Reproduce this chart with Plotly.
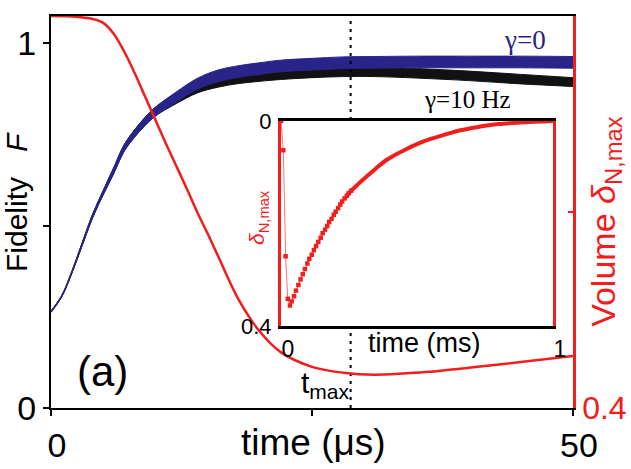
import plotly.graph_objects as go

# main panel: fidelity bands (gamma=0 blue, gamma=10 Hz black) vs time in us
t_us = [0, 1, 2, 3, 4, 5, 6, 7, 8, 9, 10, 12, 14, 16, 18, 20, 22, 25, 28, 31, 35, 40, 45, 50]
blue_upper = [0.266, 0.307, 0.375, 0.454, 0.532, 0.596, 0.658, 0.721, 0.762, 0.796, 0.824, 0.866,
              0.903, 0.926, 0.938, 0.946, 0.953, 0.958, 0.962, 0.963, 0.964, 0.964, 0.964, 0.963]
blue_lower = [0.262, 0.303, 0.369, 0.446, 0.522, 0.584, 0.642, 0.703, 0.742, 0.774, 0.800, 0.838,
              0.873, 0.894, 0.906, 0.914, 0.921, 0.926, 0.930, 0.931, 0.932, 0.932, 0.932, 0.931]
black_upper = [0.266, 0.307, 0.375, 0.454, 0.532, 0.596, 0.658, 0.721, 0.762, 0.796, 0.824, 0.862,
               0.889, 0.905, 0.915, 0.921, 0.926, 0.931, 0.934, 0.934, 0.930, 0.923, 0.914, 0.905]
black_lower = [0.262, 0.303, 0.369, 0.446, 0.522, 0.584, 0.642, 0.703, 0.742, 0.774, 0.800, 0.834,
               0.863, 0.879, 0.889, 0.895, 0.900, 0.905, 0.908, 0.908, 0.904, 0.897, 0.888, 0.881]

# squeezing volume (right axis, reversed)
t_red = [0, 2, 4, 5, 6, 7, 8, 9, 10, 11, 12, 13, 14, 15, 16, 18, 20, 22, 25, 28, 31, 35, 40, 45, 50]
volume = [0, 0.0005, 0.003, 0.007, 0.018, 0.036, 0.058, 0.082, 0.106, 0.13, 0.153, 0.176, 0.2,
          0.222, 0.245, 0.29, 0.322, 0.343, 0.358, 0.364, 0.366, 0.364, 0.359, 0.353, 0.347]
t_max = 28.7

# inset: delta_N,max vs time in ms
inset_t = [0, 0.0085, 0.017, 0.025, 0.033, 0.039, 0.048, 0.055, 0.064, 0.072, 0.080, 0.088, 0.097,
           0.104, 0.113, 0.121, 0.129, 0.137, 0.146, 0.153, 0.162, 0.170, 0.177, 0.186, 0.194,
           0.201, 0.210, 0.218, 0.225, 0.234, 0.242, 0.249, 0.258]
inset_d = [0, 0.057, 0.264, 0.347, 0.360, 0.352, 0.342, 0.331, 0.320, 0.309, 0.299, 0.289, 0.278,
           0.269, 0.261, 0.252, 0.244, 0.236, 0.228, 0.219, 0.212, 0.205, 0.197, 0.191, 0.183,
           0.177, 0.170, 0.163, 0.157, 0.151, 0.146, 0.141, 0.136]
tail_t = [0.242, 0.258, 0.28, 0.30, 0.32, 0.35, 0.38, 0.42, 0.46, 0.50, 0.55, 0.60, 0.66, 0.72,
          0.80, 0.88, 0.95, 1.0]
tail_d = [0.146, 0.136, 0.125, 0.115, 0.106, 0.092, 0.079, 0.066, 0.055, 0.045, 0.035, 0.027,
          0.018, 0.012, 0.006, 0.003, 0.001, 0.0]

NAVY = "#28248a"
RED = "#f21d1d"
SANS = "Liberation Sans"
SERIF = "Liberation Serif"

fig = go.Figure()

# black band first, blue on top of it
fig.add_trace(go.Scatter(x=t_us, y=black_lower, mode="lines",
                         line=dict(color="#111111", width=1, shape="spline")))
fig.add_trace(go.Scatter(x=t_us, y=black_upper, mode="lines", fill="tonexty",
                         fillcolor="#111111", line=dict(color="#111111", width=1, shape="spline")))
fig.add_trace(go.Scatter(x=t_us, y=blue_lower, mode="lines",
                         line=dict(color=NAVY, width=1, shape="spline")))
fig.add_trace(go.Scatter(x=t_us, y=blue_upper, mode="lines", fill="tonexty",
                         fillcolor=NAVY, line=dict(color=NAVY, width=1, shape="spline")))

# t_max marker line
fig.add_trace(go.Scatter(x=[t_max, t_max], y=[0, 1.074], mode="lines",
                         line=dict(color="black", width=2, dash="3px,5px")))

fig.add_trace(go.Scatter(x=t_red, y=volume, mode="lines", yaxis="y2",
                         line=dict(color=RED, width=2.5, shape="spline")))

# inset
fig.add_trace(go.Scatter(x=inset_t, y=inset_d, mode="lines+markers", xaxis="x2", yaxis="y3",
                         line=dict(color="#ff7070", width=1),
                         marker=dict(symbol="square", size=4.5, color=RED)))
fig.add_trace(go.Scatter(x=tail_t, y=tail_d, mode="lines", xaxis="x2", yaxis="y3",
                         line=dict(color=RED, width=4, shape="spline", smoothing=0.8)))

fig.update_layout(
    width=631, height=469,
    margin=dict(l=51, r=58, t=16, b=61),
    showlegend=False,
    paper_bgcolor="white", plot_bgcolor="white",
    font=dict(family=SANS, color="black"),
    xaxis=dict(range=[0, 50], tickvals=[0, 50], ticktext=["0", "50"], automargin=False,
               showgrid=False, zeroline=False, showline=True, linecolor="black", linewidth=2,
               mirror=True, ticks="outside", ticklen=6, tickwidth=2, tickcolor="black",
               minor=dict(tickvals=[25], ticks="outside", ticklen=6, tickwidth=2,
                          tickcolor="black"),
               tickfont=dict(size=34), ticklabelshift=6),
    yaxis=dict(range=[0, 1.074], tickvals=[0, 1], ticktext=["0", "1"], automargin=False,
               showgrid=False, zeroline=False, showline=True, linecolor="black", linewidth=2,
               ticks="outside", ticklen=6, tickwidth=2, tickcolor="black",
               minor=dict(tickvals=[0.5], ticks="outside", ticklen=6, tickwidth=2,
                          tickcolor="black"),
               tickfont=dict(size=34)),
    yaxis2=dict(range=[0.4, 0], overlaying="y", side="right", tickvals=[0, 0.4],
                ticktext=["0", "0.4"], showgrid=False, zeroline=False, showline=True,
                automargin=False,
                linecolor=RED, linewidth=2.5, ticks="inside", ticklen=5, tickwidth=2,
                minor=dict(tickvals=[0.2], ticks="inside", ticklen=5, tickwidth=2,
                           tickcolor=RED),
                tickcolor=RED, tickfont=dict(size=32, color=RED)),
    xaxis2=dict(domain=[0.4406, 0.9617], anchor="y3", range=[0, 1], tickvals=[0, 1],
                automargin=False,
                showgrid=False, zeroline=False, showline=True, linecolor="black", linewidth=3,
                mirror=True, ticks="", tickfont=dict(size=23), ticklabelshift=7),
    yaxis3=dict(domain=[0.2092, 0.7321], anchor="x2", range=[0.4, 0], tickvals=[0, 0.4],
                automargin=False,
                ticktext=["0", "0.4"], showgrid=False, zeroline=False, showline=True,
                linecolor=RED, linewidth=3, mirror=True, ticks="",
                tickfont=dict(size=22), ticklabelstandoff=2),
)

annotations = [
    dict(text="time (\u03bcs)", x=0.502, y=-0.089, font=dict(size=37)),
    dict(text="Fidelity   <i>F</i>", x=-0.067, y=0.5255, textangle=-90, font=dict(size=30)),
    dict(text="Volume <i>\u03b4</i><sub>N,max</sub>", x=1.061, y=0.477, textangle=-90,
         font=dict(size=34, color=RED)),
    dict(text="\u03b3=0", x=0.908, y=0.939, font=dict(size=27, family=SERIF, color=NAVY)),
    dict(text="\u03b3=10 Hz", x=0.797, y=0.786, font=dict(size=25, family=SERIF)),
    dict(text="(a)", x=0.0996, y=0.092, font=dict(size=42)),
    dict(text="t<sub>max</sub>", x=0.525, y=0.06, font=dict(size=30)),
    dict(text="<i>\u03b4</i><sub>N,max</sub>", x=0.3966, y=0.485, textangle=-90,
         font=dict(size=21, color=RED)),
    dict(text="time (ms)", x=0.7146, y=0.166, font=dict(size=27)),
]
for a in annotations:
    fig.add_annotation(xref="paper", yref="paper", showarrow=False,
                       xanchor="center", yanchor="middle", **a)

fig.write_html("out.html", config={"displayModeBar": False},
               post_script="document.body.style.margin='0';")
